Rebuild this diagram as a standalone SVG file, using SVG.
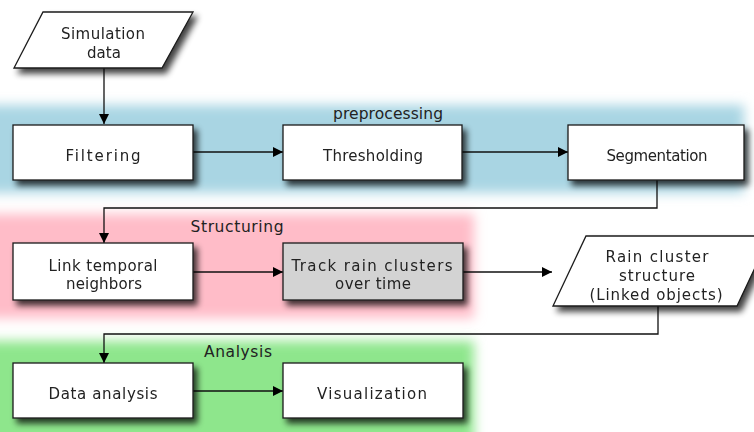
<svg xmlns="http://www.w3.org/2000/svg" width="754" height="432" viewBox="0 0 754 432">
  <style>
    .box { fill: #ffffff; stroke: #1a1a1a; stroke-width: 1.3; }
    .gray { fill: #d3d3d3; }
    .lbl { font-family: "DejaVu Sans", "Liberation Sans", sans-serif; font-size: 15px; fill: #222222; text-anchor: middle; }
    .cap { font-family: "DejaVu Sans", "Liberation Sans", sans-serif; font-size: 15.5px; fill: #222222; text-anchor: middle; }
    .edge { fill: none; stroke: #111111; stroke-width: 1.3; }
  </style>
  <defs>
    <filter id="soft" x="-20%" y="-40%" width="140%" height="180%">
      <feGaussianBlur stdDeviation="6"/>
    </filter>
    <filter id="shadow" x="-20%" y="-30%" width="150%" height="170%">
      <feGaussianBlur in="SourceAlpha" stdDeviation="3"/>
      <feOffset dx="4" dy="5" result="b"/>
      <feComponentTransfer in="b" result="s">
        <feFuncA type="linear" slope="0.75"/>
      </feComponentTransfer>
      <feMerge>
        <feMergeNode in="s"/>
        <feMergeNode in="SourceGraphic"/>
      </feMerge>
    </filter>
    <marker id="arrow" markerUnits="userSpaceOnUse" markerWidth="12" markerHeight="12" refX="11" refY="6" orient="auto">
      <path d="M1,1 L11,6 L1,11 Z" fill="#000000"/>
    </marker>
  </defs>

  <rect width="754" height="432" fill="#ffffff"/>

  <!-- stage bands -->
  <g id="band-preprocessing">
    <rect x="-20" y="105" width="764" height="88" fill="#a9d5e3" filter="url(#soft)"/>
    <text class="cap" x="388" y="119" textLength="110">preprocessing</text>
  </g>
  <g id="band-structuring">
    <rect x="-20" y="214" width="494" height="104" fill="#ffbcc8" filter="url(#soft)"/>
    <text class="cap" x="237" y="232" textLength="93">Structuring</text>
  </g>
  <g id="band-analysis">
    <rect x="-20" y="341" width="494" height="110" fill="#8ee68c" filter="url(#soft)"/>
    <text class="cap" x="238" y="357" textLength="68">Analysis</text>
  </g>

  <!-- connectors -->
  <g id="connectors">
    <path class="edge" d="M104,68 V124" marker-end="url(#arrow)"/>
    <path class="edge" d="M193,152 H283" marker-end="url(#arrow)"/>
    <path class="edge" d="M462,152 H568" marker-end="url(#arrow)"/>
    <path class="edge" d="M657,180 V208 H104 V243" marker-end="url(#arrow)"/>
    <path class="edge" d="M193,272 H283" marker-end="url(#arrow)"/>
    <path class="edge" d="M463,272 H552" marker-end="url(#arrow)"/>
    <path class="edge" d="M658,306 V334 H104 V363" marker-end="url(#arrow)"/>
    <path class="edge" d="M193,391 H283" marker-end="url(#arrow)"/>
  </g>

  <!-- nodes -->
  <g id="simulation-data" filter="url(#shadow)">
    <polygon class="box" points="43,12 193,12 162,68 14,68"/>
    <text class="lbl" x="103" y="39" textLength="84">Simulation</text>
    <text class="lbl" x="104" y="58" textLength="34">data</text>
  </g>
  <g id="filtering" filter="url(#shadow)">
    <rect class="box" x="13" y="125" width="180" height="55"/>
    <text class="lbl" x="103" y="161" textLength="75">Filtering</text>
  </g>
  <g id="thresholding" filter="url(#shadow)">
    <rect class="box" x="283" y="125" width="179" height="55"/>
    <text class="lbl" x="373" y="161" textLength="100">Thresholding</text>
  </g>
  <g id="segmentation" filter="url(#shadow)">
    <rect class="box" x="568" y="125" width="176" height="55"/>
    <text class="lbl" x="657" y="161" font-size="14" textLength="101">Segmentation</text>
  </g>
  <g id="link-temporal" filter="url(#shadow)">
    <rect class="box" x="13" y="243" width="180" height="57"/>
    <text class="lbl" x="103" y="271" textLength="109">Link temporal</text>
    <text class="lbl" x="104" y="289" textLength="76">neighbors</text>
  </g>
  <g id="track-clusters" filter="url(#shadow)">
    <rect class="box gray" x="283" y="243" width="180" height="57"/>
    <text class="lbl" x="372" y="271" textLength="161">Track rain clusters</text>
    <text class="lbl" x="373" y="289" textLength="76">over time</text>
  </g>
  <g id="rain-cluster-structure" filter="url(#shadow)">
    <polygon class="box" points="586,236 770,236 737,306 553,306"/>
    <text class="lbl" x="657" y="262" textLength="103">Rain cluster</text>
    <text class="lbl" x="657" y="281" textLength="76">structure</text>
    <text class="lbl" x="656" y="300" textLength="133">(Linked objects)</text>
  </g>
  <g id="data-analysis" filter="url(#shadow)">
    <rect class="box" x="13" y="363" width="180" height="55"/>
    <text class="lbl" x="103" y="399" textLength="109">Data analysis</text>
  </g>
  <g id="visualization" filter="url(#shadow)">
    <rect class="box" x="283" y="363" width="180" height="55"/>
    <text class="lbl" x="372" y="399" textLength="110">Visualization</text>
  </g>
</svg>
